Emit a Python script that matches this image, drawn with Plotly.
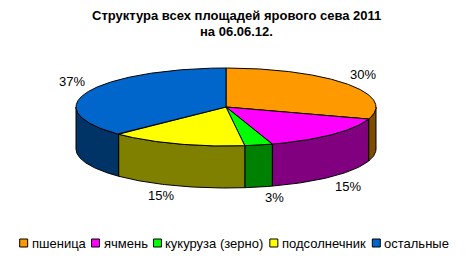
import numpy as np
import plotly.graph_objects as go

categories = ["пшеница", "ячмень", "кукуруза (зерно)", "подсолнечник", "остальные"]
values = [30.0, 15.0, 3.0, 14.7, 37.3]
top_colors = ["#FF9900", "#FF00FF", "#00FF00", "#FFFF00", "#0066CC"]
side_colors = ["#7F4C00", "#800080", "#008000", "#808000", "#003366"]
title_lines = ["Структура всех площадей ярового сева 2011", "на 06.06.12."]

W, H = 473, 263
cx, cy, rx, ry, depth = 226, 107, 150, 39, 42
FONT = "Arial, Liberation Sans, sans-serif"
FS = 13

def pt(t_deg, dy=0.0):
    t = np.radians(t_deg)
    return cx + rx * np.cos(t), cy - ry * np.sin(t) + dy

total = sum(values)
fracs = [v / total for v in values]
cum = np.concatenate([[0], np.cumsum(fracs)])
starts = 90 - 360 * cum[:-1]
ends = 90 - 360 * cum[1:]

fig = go.Figure()

# side walls (front half only: angles in [-180, 0])
for i, (s, e) in enumerate(zip(starts, ends)):
    a = min(s, 0.0)
    b = max(e, -180.0)
    if a <= b:
        continue
    ts = np.linspace(a, b, 60)
    xt, yt = pt(ts)
    xb, yb = pt(ts[::-1], depth)
    xs = np.concatenate([xt, xb, xt[:1]])
    ys = np.concatenate([yt, yb, yt[:1]])
    fig.add_trace(go.Scatter(x=xs, y=ys, mode="lines", fill="toself",
                             fillcolor=side_colors[i], line=dict(color="black", width=1),
                             showlegend=False, hoverinfo="skip"))

# top slices
for i, (s, e) in enumerate(zip(starts, ends)):
    ts = np.linspace(s, e, max(8, int(abs(s - e) * 2)))
    xa, ya = pt(ts)
    xs = np.concatenate([[cx], xa, [cx]])
    ys = np.concatenate([[cy], ya, [cy]])
    fig.add_trace(go.Scatter(x=xs, y=ys, mode="lines", fill="toself",
                             fillcolor=top_colors[i], line=dict(color="black", width=1),
                             name=categories[i], showlegend=False, hoverinfo="skip"))

# percentage labels: outside the rim at the slice's middle angle
for i, (s, e) in enumerate(zip(starts, ends)):
    m = (s + e) / 2
    t = np.radians(m)
    ex, ey = pt(m, depth if np.sin(t) < 0 else 0)
    lx = ex + 16 * np.sign(np.cos(t))
    ly = ey - 10 * np.sign(np.sin(t))
    fig.add_annotation(x=lx, y=ly, text=f"{round(values[i]):d}%", showarrow=False,
                       font=dict(size=FS, color="black", family=FONT),
                       xanchor="center", yanchor="middle")

# title
for k, line in enumerate(title_lines):
    fig.add_annotation(x=236, y=15 + 16 * k, text=f"<b>{line}</b>", showarrow=False,
                       font=dict(size=FS, color="black", family=FONT),
                       xanchor="center", yanchor="middle")

# legend (Excel-style compact row)
CW = {"а": .556, "б": .573, "в": .531, "г": .365, "д": .583, "е": .556, "ж": .669,
      "з": .458, "и": .559, "й": .559, "к": .438, "л": .583, "м": .688, "н": .552,
      "о": .556, "п": .542, "р": .556, "с": .5, "т": .458, "у": .5, "ф": .823,
      "х": .5, "ц": .573, "ч": .521, "ш": .802, "щ": .823, "ъ": .625, "ы": .719,
      "ь": .521, "э": .51, "ю": .75, "я": .542, " ": .278, "(": .333, ")": .333}

def text_w(s, size=FS):
    return sum(CW.get(ch, 0.556) for ch in s) * size

box, gap_t, gap_i = 8, 3, 7
widths = [text_w(c) for c in categories]
total_w = sum(box + gap_t + w + gap_i for w in widths) - gap_i
x0 = 234 - total_w / 2
ly = 243
xs_box = []
for c, w in zip(categories, widths):
    xs_box.append(x0 + box / 2)
    fig.add_annotation(x=x0 + box + gap_t - 1, y=ly, text=c, showarrow=False,
                       font=dict(size=FS, color="black", family=FONT),
                       xanchor="left", yanchor="middle")
    x0 += box + gap_t + w + gap_i
fig.add_trace(go.Scatter(x=xs_box, y=[ly] * len(xs_box), mode="markers",
                         marker=dict(symbol="square", size=8, color=top_colors,
                                     line=dict(color="black", width=1)),
                         showlegend=False, hoverinfo="skip"))

fig.update_layout(
    width=W, height=H, autosize=False,
    margin=dict(l=0, r=0, t=0, b=0),
    paper_bgcolor="white", plot_bgcolor="white",
    font=dict(family=FONT, color="black"),
    xaxis=dict(range=[0, W], visible=False, fixedrange=True),
    yaxis=dict(range=[H, 0], visible=False, fixedrange=True),
    showlegend=False,
)

fig.write_html("out.html")
